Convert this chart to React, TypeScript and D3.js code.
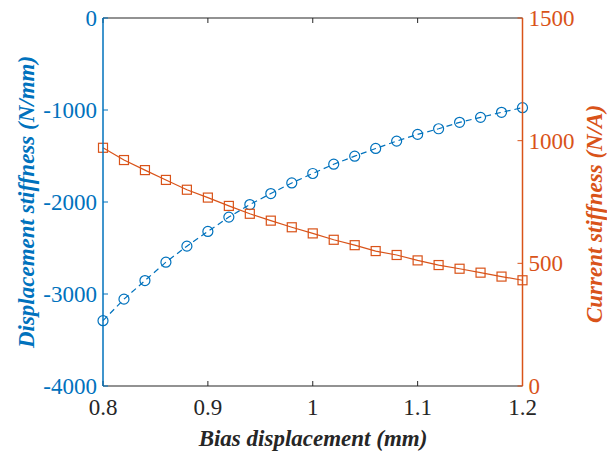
import React from "react";
import * as d3 from "d3";

const biasDisp = [0.8, 0.82, 0.84, 0.86, 0.88, 0.9, 0.92, 0.94, 0.96, 0.98, 1.0, 1.02, 1.04, 1.06, 1.08, 1.1, 1.12, 1.14, 1.16, 1.18, 1.2];
const dispStiffness = [-3290, -3056, -2854, -2654, -2480, -2320, -2164, -2028, -1908, -1793, -1690, -1589, -1502, -1418, -1338, -1265, -1204, -1134, -1080, -1025, -975];
const currStiffness = [971, 921, 880, 840, 800, 768, 734, 702, 674, 647, 622, 596, 574, 550, 534, 512, 493, 478, 462, 446, 431];

const xTicks = [0.8, 0.9, 1.0, 1.1, 1.2];
const xTickLabels = ["0.8", "0.9", "1", "1.1", "1.2"];
const leftTicks = [0, -1000, -2000, -3000, -4000];
const rightTicks = [0, 500, 1000, 1500];

const BLUE = "#0072BD";
const ORANGE = "#D95319";
const AXIS = "#262626";

function T(props: { x?: number; y?: number; anchor: string; color: string; label?: boolean; transform?: string; children: React.ReactNode }) {
  return (
    <text
      x={props.x}
      y={props.y}
      transform={props.transform}
      fontSize={23}
      style={{
        fontFamily: `"Liberation Serif"`,
        fontStyle: props.label ? "italic" : "normal",
        fontWeight: props.label ? "bold" : "normal",
        textAnchor: props.anchor as any,
        fill: props.color,
      }}
    >
      {props.children}
    </text>
  );
}

export default function App() {
  const W = 607, H = 455;
  const L = 103, R = 522.5, Tp = 18, B = 386;
  const x = d3.scaleLinear().domain([0.8, 1.2]).range([L, R]);
  const yL = d3.scaleLinear().domain([-4000, 0]).range([B, Tp]);
  const yR = d3.scaleLinear().domain([0, 1500]).range([B, Tp]);
  const tick = 5;

  const lineL = d3.line<number>().x((_, i) => x(biasDisp[i])).y((d) => yL(d));
  const lineR = d3.line<number>().x((_, i) => x(biasDisp[i])).y((d) => yR(d));

  return (
    <svg width={W} height={H} style={{ position: "absolute", left: 0, top: 0 }}>
      <path d={lineL(dispStiffness) || ""} fill="none" stroke={BLUE} strokeWidth={1.2} strokeDasharray="6,4" />
      {dispStiffness.map((d, i) => (
        <circle key={"c" + i} cx={x(biasDisp[i])} cy={yL(d)} r={5} fill="none" stroke={BLUE} strokeWidth={1.2} />
      ))}
      <path d={lineR(currStiffness) || ""} fill="none" stroke={ORANGE} strokeWidth={1.2} />
      {currStiffness.map((d, i) => (
        <rect key={"s" + i} x={x(biasDisp[i]) - 4.5} y={yR(d) - 4.5} width={9} height={9} fill="none" stroke={ORANGE} strokeWidth={1.2} />
      ))}
      <line x1={L} x2={R} y1={Tp} y2={Tp} stroke={AXIS} strokeWidth={1.2} />
      <line x1={L} x2={R} y1={B} y2={B} stroke={AXIS} strokeWidth={1.2} />
      {xTicks.map((t, i) => (
        <g key={"xt" + i}>
          <line x1={x(t)} x2={x(t)} y1={B} y2={B - tick} stroke={AXIS} strokeWidth={1} />
          <line x1={x(t)} x2={x(t)} y1={Tp} y2={Tp + tick} stroke={AXIS} strokeWidth={1} />
          <T x={x(t)} y={B + 29} anchor="middle" color={AXIS}>{xTickLabels[i]}</T>
        </g>
      ))}
      <line x1={L} x2={L} y1={Tp} y2={B} stroke={BLUE} strokeWidth={1.5} />
      {leftTicks.map((t, i) => (
        <g key={"lt" + i}>
          <line x1={L} x2={L + tick} y1={yL(t)} y2={yL(t)} stroke={BLUE} strokeWidth={1} />
          <T x={L - 6} y={yL(t) + 8} anchor="end" color={BLUE}>{String(t)}</T>
        </g>
      ))}
      <line x1={R} x2={R} y1={Tp} y2={B} stroke={ORANGE} strokeWidth={1.5} />
      {rightTicks.map((t, i) => (
        <g key={"rt" + i}>
          <line x1={R} x2={R - tick} y1={yR(t)} y2={yR(t)} stroke={ORANGE} strokeWidth={1} />
          <T x={R + 6} y={yR(t) + 8} anchor="start" color={ORANGE}>{String(t)}</T>
        </g>
      ))}
      <T x={313} y={446} anchor="middle" color={AXIS} label>Bias displacement (mm)</T>
      <T transform={`translate(34,${(Tp + B) / 2}) rotate(-90)`} anchor="middle" color={BLUE} label>Displacement stiffness (N/mm)</T>
      <T transform={`translate(602,${(Tp + B) / 2 + 12}) rotate(-90)`} anchor="middle" color={ORANGE} label>Current stiffness (N/A)</T>
    </svg>
  );
}
